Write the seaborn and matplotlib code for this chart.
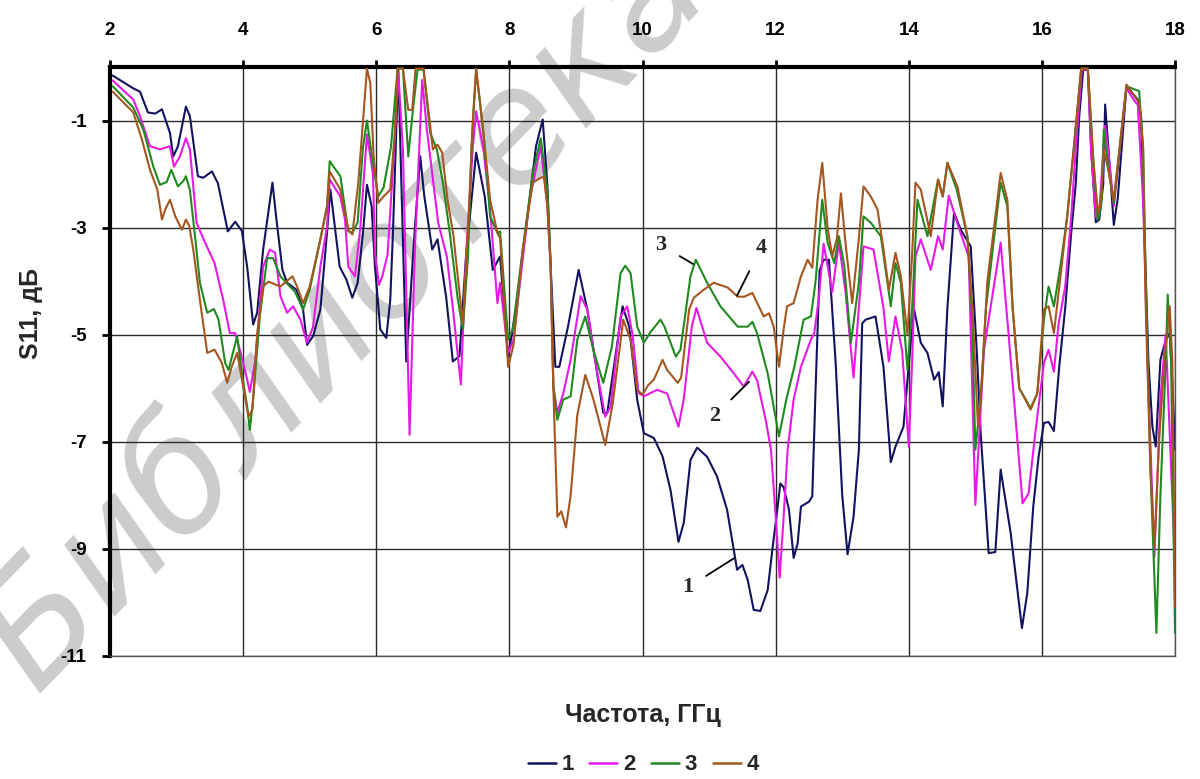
import numpy as np
import pandas as pd
import matplotlib
matplotlib.use("Agg")
import matplotlib.pyplot as plt
import seaborn as sns

# ---------------- data ----------------
f1 = [2.04,2.35,2.45,2.57,2.68,2.78,2.90,2.95,3.02,3.14,3.20,3.32,3.40,3.53,3.62,3.77,3.88,3.98,4.06,4.15,
      4.21,4.30,4.44,4.50,4.59,4.66,4.80,4.90,4.96,5.05,5.16,5.26,5.31,5.45,5.55,5.64,5.72,5.80,5.86,5.93,
      5.98,6.06,6.15,6.21,6.25,6.33,6.45,6.58,6.66,6.72,6.84,6.92,7.05,7.15,7.25,7.35,7.50,7.63,7.75,7.86,
      7.98,8.10,8.30,8.40,8.50,8.57,8.62,8.69,8.75,8.88,9.04,9.17,9.41,9.47,9.70,9.80,9.92,10.02,10.17,10.30,
      10.42,10.54,10.62,10.72,10.82,10.97,11.12,11.27,11.37,11.42,11.50,11.58,11.67,11.77,11.88,11.95,12.03,12.07,12.12,12.20,
      12.27,12.33,12.38,12.50,12.55,12.60,12.66,12.72,12.80,12.90,13.00,13.08,13.17,13.25,13.30,13.35,13.50,13.62,13.73,13.80,
      13.92,14.02,14.08,14.18,14.28,14.38,14.45,14.51,14.58,14.68,14.78,14.93,15.02,15.08,15.20,15.30,15.38,15.53,15.70,15.78,
      15.87,15.95,16.03,16.10,16.18,16.26,16.35,16.44,16.51,16.56,16.62,16.69,16.74,16.81,16.86,16.92,16.95,17.00,17.08,17.14,
      17.27,17.44,17.49,17.54,17.60,17.66,17.71,17.78,17.86,17.92,17.96,18.00]
s1 = [-0.16,-0.40,-0.46,-0.85,-0.87,-0.79,-1.23,-1.67,-1.48,-0.74,-0.92,-2.04,-2.07,-1.95,-2.17,-3.07,-2.89,-3.06,-3.73,-4.81,
      -4.59,-3.41,-2.16,-2.85,-3.79,-4.03,-4.16,-4.53,-5.19,-5.03,-4.53,-3.09,-2.29,-3.73,-3.97,-4.31,-4.03,-3.10,-2.20,-2.60,
      -3.73,-4.90,-5.06,-4.35,-3.10,-0.03,-5.50,-3.00,-1.67,-2.40,-3.41,-3.22,-4.30,-5.50,-5.40,-3.50,-1.60,-2.42,-3.79,-3.54,
      -5.42,-4.50,-2.50,-1.48,-0.98,-2.20,-3.73,-5.60,-5.60,-4.85,-3.79,-4.53,-6.46,-6.46,-4.47,-4.85,-6.22,-6.84,-6.93,-7.27,
      -7.90,-8.87,-8.51,-7.34,-7.11,-7.28,-7.65,-8.27,-9.02,-9.39,-9.30,-9.58,-10.14,-10.16,-9.77,-9.02,-8.21,-7.78,-7.85,-8.27,
      -9.17,-8.90,-8.21,-8.12,-8.02,-6.00,-3.80,-3.60,-3.60,-5.50,-8.00,-9.10,-8.40,-7.15,-4.79,-4.72,-4.66,-5.60,-7.38,-7.09,
      -6.72,-5.28,-4.53,-5.15,-5.34,-5.84,-5.70,-6.34,-4.50,-2.72,-3.04,-3.35,-5.28,-6.84,-9.08,-9.06,-7.52,-8.70,-10.48,-9.83,
      -8.21,-7.28,-6.65,-6.63,-6.80,-5.60,-4.50,-3.10,-2.16,-0.93,-0.05,-0.05,-1.54,-2.90,-2.85,-2.20,-0.70,-1.54,-2.95,-2.45,
      -0.36,-0.61,-0.92,-3.10,-5.50,-6.72,-7.09,-5.47,-5.10,-4.97,-5.90,-7.15]

f2 = [2.04,2.35,2.45,2.60,2.75,2.90,2.96,3.05,3.14,3.20,3.30,3.42,3.57,3.70,3.80,3.88,3.95,4.06,4.10,4.18,
      4.30,4.40,4.48,4.56,4.66,4.75,4.86,4.96,5.05,5.16,5.26,5.30,5.46,5.53,5.58,5.68,5.76,5.86,5.95,5.98,
      6.04,6.09,6.17,6.27,6.33,6.40,6.50,6.58,6.69,6.76,6.93,7.06,7.15,7.27,7.35,7.45,7.50,7.61,7.71,7.82,
      7.86,7.98,8.06,8.30,8.47,8.57,8.62,8.66,8.72,8.81,8.92,9.07,9.17,9.32,9.44,9.52,9.67,9.77,9.85,9.94,
      10.02,10.22,10.37,10.54,10.62,10.74,10.81,10.97,11.17,11.37,11.52,11.65,11.72,11.85,11.93,12.00,12.06,12.12,12.18,12.27,
      12.38,12.53,12.58,12.65,12.72,12.85,12.95,13.05,13.17,13.25,13.32,13.47,13.62,13.70,13.80,13.90,14.00,14.05,14.10,14.18,
      14.33,14.44,14.51,14.60,14.75,14.90,15.00,15.13,15.38,15.50,15.71,15.80,15.90,16.03,16.10,16.18,16.25,16.35,16.44,16.51,
      16.60,16.69,16.74,16.81,16.86,16.90,16.95,17.00,17.08,17.27,17.40,17.44,17.52,17.60,17.69,17.78,17.86,18.00]
s2 = [-0.25,-0.61,-0.92,-1.48,-1.54,-1.48,-1.86,-1.67,-1.33,-1.54,-2.91,-3.26,-3.66,-4.35,-4.97,-4.97,-5.28,-5.84,-6.07,-5.50,
      -3.73,-3.41,-3.47,-4.28,-4.59,-4.47,-4.72,-5.15,-4.85,-3.73,-2.98,-2.10,-2.42,-2.85,-3.73,-3.91,-3.00,-1.26,-2.00,-3.47,
      -4.07,-3.91,-3.50,-1.50,-0.10,-1.54,-6.87,-3.40,-0.24,-1.17,-2.91,-3.54,-4.50,-5.93,-3.50,-1.50,-0.83,-1.54,-2.67,-4.41,
      -4.03,-5.34,-5.10,-2.50,-1.48,-2.60,-3.73,-5.97,-6.46,-6.09,-5.47,-4.28,-4.53,-5.72,-6.53,-6.35,-4.66,-4.47,-5.00,-6.09,
      -6.15,-6.03,-6.10,-6.72,-6.20,-4.85,-4.50,-5.15,-5.41,-5.72,-5.97,-5.69,-5.85,-6.59,-7.15,-8.40,-9.54,-8.40,-7.15,-6.21,
      -5.60,-5.09,-4.97,-4.30,-3.30,-4.20,-3.28,-4.20,-5.80,-4.50,-3.35,-3.41,-4.50,-5.50,-4.66,-5.30,-7.09,-5.50,-3.54,-3.22,
      -3.79,-3.16,-3.41,-2.40,-3.00,-3.54,-8.18,-5.28,-3.28,-5.00,-8.15,-7.96,-6.84,-5.53,-5.28,-5.69,-4.80,-4.10,-2.80,-1.50,
      -0.05,-0.05,-1.60,-2.80,-2.75,-2.00,-1.10,-1.60,-2.60,-0.40,-0.65,-0.70,-2.50,-6.00,-9.15,-6.20,-5.00,-9.30]

f3 = [2.04,2.35,2.50,2.65,2.75,2.85,2.92,3.02,3.10,3.14,3.20,3.28,3.35,3.46,3.56,3.63,3.73,3.78,3.91,3.98,
      4.06,4.10,4.15,4.25,4.36,4.45,4.56,4.68,4.78,4.90,5.00,5.16,5.26,5.30,5.46,5.58,5.64,5.72,5.80,5.86,
      5.95,6.03,6.11,6.22,6.32,6.40,6.48,6.55,6.62,6.71,6.81,6.91,7.00,7.11,7.22,7.30,7.38,7.43,7.50,7.61,
      7.71,7.82,7.86,7.98,8.05,8.20,8.35,8.47,8.57,8.62,8.66,8.72,8.81,8.92,9.02,9.14,9.26,9.41,9.54,9.67,
      9.74,9.82,9.92,10.02,10.12,10.27,10.33,10.50,10.57,10.72,10.80,10.97,11.17,11.43,11.58,11.65,11.72,11.88,11.97,12.05,
      12.16,12.28,12.42,12.53,12.60,12.70,12.78,12.88,12.95,13.03,13.13,13.25,13.32,13.43,13.58,13.68,13.73,13.80,13.88,13.98,
      14.05,14.13,14.28,14.44,14.51,14.58,14.72,14.88,14.95,15.00,15.08,15.16,15.28,15.38,15.48,15.56,15.66,15.83,15.93,16.03,
      16.10,16.18,16.28,16.38,16.48,16.59,16.69,16.77,16.84,16.89,16.93,17.01,17.08,17.27,17.46,17.52,17.56,17.63,17.69,17.72,
      17.78,17.86,17.89,17.94,18.00]
s3 = [-0.36,-0.76,-1.17,-1.86,-2.20,-2.15,-1.92,-2.23,-2.13,-2.04,-2.30,-3.20,-4.03,-4.59,-4.52,-4.72,-5.53,-5.66,-5.03,-5.72,
      -6.34,-6.78,-6.20,-4.66,-3.57,-3.57,-3.91,-4.07,-4.20,-4.53,-4.16,-3.22,-2.60,-1.76,-2.04,-3.07,-3.10,-2.90,-1.50,-1.00,
      -1.80,-2.42,-2.25,-1.50,-0.03,-0.03,-1.67,-0.80,-0.05,-0.05,-1.23,-1.54,-2.16,-3.16,-4.30,-4.90,-3.50,-1.50,-0.05,-1.23,
      -2.79,-3.10,-3.07,-5.09,-4.90,-3.41,-2.00,-1.33,-2.30,-3.73,-5.97,-6.59,-6.21,-6.15,-5.09,-4.66,-5.28,-5.90,-5.22,-3.85,
      -3.71,-3.85,-4.85,-5.15,-4.95,-4.72,-4.85,-5.41,-5.28,-3.91,-3.60,-4.03,-4.47,-4.85,-4.85,-4.76,-4.97,-5.72,-6.34,-6.90,
      -6.21,-5.60,-4.72,-4.66,-4.00,-2.48,-3.28,-3.66,-3.16,-3.70,-5.15,-4.03,-2.79,-2.91,-3.16,-4.03,-4.47,-3.66,-4.03,-5.66,
      -4.50,-2.48,-3.16,-2.10,-2.42,-1.79,-2.29,-3.16,-4.60,-7.15,-6.20,-4.50,-3.20,-2.16,-2.60,-4.50,-6.00,-6.37,-6.10,-4.72,
      -4.10,-4.47,-3.70,-2.79,-1.50,-0.03,-0.03,-1.70,-2.85,-2.60,-1.17,-2.00,-2.54,-0.36,-0.45,-1.50,-4.00,-7.50,-9.52,-10.57,
      -8.00,-5.50,-4.25,-5.50,-10.57]

f4 = [2.04,2.35,2.48,2.60,2.71,2.78,2.83,2.90,2.98,3.08,3.14,3.19,3.25,3.35,3.46,3.57,3.68,3.76,3.83,3.91,
      4.00,4.08,4.14,4.21,4.30,4.38,4.46,4.56,4.74,4.81,4.90,5.00,5.16,5.26,5.30,5.46,5.58,5.64,5.73,5.80,
      5.86,5.91,5.96,6.03,6.10,6.21,6.28,6.32,6.40,6.48,6.54,6.59,6.71,6.85,6.92,6.99,7.07,7.16,7.30,7.38,
      7.45,7.50,7.61,7.71,7.82,7.86,7.98,8.06,8.20,8.35,8.47,8.52,8.57,8.62,8.66,8.72,8.78,8.85,8.92,9.02,
      9.14,9.26,9.44,9.55,9.71,9.82,9.92,10.00,10.08,10.17,10.30,10.37,10.53,10.58,10.70,10.77,10.92,11.07,11.28,11.43,
      11.53,11.65,11.72,11.82,11.90,11.97,12.05,12.12,12.17,12.27,12.38,12.48,12.55,12.63,12.70,12.78,12.85,12.92,12.98,13.05,
      13.15,13.25,13.32,13.43,13.53,13.62,13.70,13.80,13.88,13.98,14.05,14.10,14.18,14.33,14.44,14.51,14.58,14.73,14.88,14.96,
      15.04,15.10,15.18,15.28,15.38,15.48,15.56,15.66,15.83,15.93,16.03,16.10,16.18,16.28,16.38,16.48,16.59,16.69,16.77,16.84,
      16.89,16.93,17.01,17.08,17.27,17.46,17.52,17.56,17.63,17.69,17.76,17.84,17.92,17.96,18.00]
s4 = [-0.46,-0.85,-1.36,-1.92,-2.29,-2.85,-2.66,-2.48,-2.79,-3.04,-2.85,-2.97,-3.41,-4.35,-5.34,-5.28,-5.53,-5.90,-5.59,-5.34,
      -5.97,-6.53,-6.40,-5.00,-4.10,-4.01,-4.05,-4.10,-3.91,-4.10,-4.41,-4.10,-3.22,-2.60,-1.95,-2.29,-3.04,-3.13,-2.16,-1.00,
      -0.03,-0.30,-1.67,-2.54,-2.43,-2.29,-1.20,-0.03,-0.03,-0.80,-0.80,-0.03,-0.03,-1.54,-1.45,-1.60,-2.48,-3.16,-4.80,-3.00,
      -1.00,-0.03,-1.23,-2.48,-3.10,-3.20,-5.60,-5.20,-3.41,-2.16,-2.07,-2.05,-2.60,-3.73,-6.00,-8.40,-8.30,-8.60,-8.00,-6.50,
      -5.75,-6.20,-7.06,-6.30,-4.72,-5.09,-6.03,-6.12,-5.95,-5.84,-5.47,-5.66,-5.90,-5.80,-4.53,-4.31,-4.16,-4.03,-4.12,-4.29,
      -4.29,-4.22,-4.40,-4.66,-4.60,-4.85,-5.60,-4.90,-4.47,-4.41,-3.91,-3.60,-3.75,-2.48,-1.79,-3.00,-3.54,-3.20,-2.36,-3.30,
      -4.41,-3.20,-2.23,-2.42,-2.66,-3.40,-4.16,-3.47,-3.90,-5.00,-3.50,-2.16,-2.29,-3.16,-2.10,-2.42,-1.79,-2.23,-3.16,-4.60,
      -6.72,-5.80,-4.00,-3.00,-1.98,-2.48,-4.50,-6.00,-6.40,-6.10,-4.53,-4.47,-4.97,-3.90,-2.79,-1.50,-0.03,-0.03,-1.70,-2.73,
      -2.50,-1.54,-2.00,-2.48,-0.33,-0.67,-1.50,-4.50,-7.50,-8.96,-7.00,-5.50,-4.47,-5.50,-10.08]

series_names = ["1", "2", "3", "4"]
series_colors = ["#12125e", "#e619e6", "#1f8a1f", "#a5561f"]
x_ticks = [2, 4, 6, 8, 10, 12, 14, 16, 18]
y_ticks = [-1, -3, -5, -7, -9, -11]
x_label = "Частота, ГГц"
y_label = "S11, дБ"
watermark = "Библиотека"

# labels placed on the curves: (text, text x, text y, arrow end x, arrow end y)
curve_labels = [("1", 10.68, -9.72, 11.37, -9.18),
                ("2", 11.08, -6.52, 11.60, -5.88),
                ("3", 10.28, -3.33, 10.76, -3.68),
                ("4", 11.78, -3.38, 11.42, -4.27)]

# ---------------- build long-form frame ----------------
frames = []
for name, f, s in zip(series_names, [f1, f2, f3, f4], [s1, s2, s3, s4]):
    frames.append(pd.DataFrame({"f": f, "s11": s, "curve": name}))
df = pd.concat(frames, ignore_index=True)

sns.set_theme(style="white")
plt.rcParams["font.family"] = ["Liberation Sans", "DejaVu Sans"]

fig = plt.figure(figsize=(12, 7.79), dpi=100)
fig.patch.set_facecolor("white")
ax = fig.add_axes([0.0917, 0.158, 0.8875, 0.756])
ax.set_zorder(1)
ax.patch.set_visible(False)

# watermark (behind everything else)
fig.text(0.03, 0.11, watermark, rotation=46, rotation_mode="anchor",
         fontsize=112, color="#cccccc", style="italic", ha="left", va="baseline",
         zorder=0, family=["DejaVu Sans"])

sns.lineplot(data=df, x="f", y="s11", hue="curve", palette=series_colors,
             estimator=None, sort=False, linewidth=1.5, ax=ax, legend=False, zorder=3)

ax.set_xlim(2, 18)
ax.set_ylim(-11, 0)
ax.xaxis.tick_top()
ax.set_xticks(x_ticks)
ax.set_xticklabels([str(t) for t in x_ticks], fontsize=13.5, fontweight="bold")
ax.set_yticks(y_ticks)
ax.set_yticklabels([str(t) for t in y_ticks], fontsize=13.5, fontweight="bold")
ax.tick_params(axis="x", which="both", top=True, bottom=False, direction="out",
               length=5, width=2, pad=15, color="black", labelcolor="black")
ax.tick_params(axis="y", which="both", left=True, direction="out",
               length=6, width=2, pad=11, color="black", labelcolor="black")
ax.grid(True, color="#2a2a2a", linewidth=1.0, zorder=1)
ax.set_axisbelow(True)
for side in ["top", "left"]:
    ax.spines[side].set_linewidth(3)
    ax.spines[side].set_color("black")
for side in ["bottom", "right"]:
    ax.spines[side].set_linewidth(1.0)
    ax.spines[side].set_color("#555555")

ax.set_xlabel("")
ax.set_ylabel("")
fig.text(0.536, 0.082, x_label, ha="center", va="center", fontsize=18, fontweight="bold")
fig.text(0.026, 0.598, y_label, ha="center", va="center", rotation=90, fontsize=18, fontweight="bold")

for txt, tx, ty, axx, ayy in curve_labels:
    ax.annotate(txt, xy=(axx, ayy), xytext=(tx, ty), ha="center", va="center",
                fontsize=16, fontweight="bold", family=["Liberation Serif"],
                arrowprops=dict(arrowstyle="-", color="black", lw=1.3, shrinkA=8, shrinkB=0),
                zorder=5)

handles = [plt.Line2D([], [], color=c, linewidth=1.8) for c in series_colors]
fig.legend(handles, series_names, loc="center", bbox_to_anchor=(0.536, 0.018), ncol=4,
           frameon=False, handlelength=1.27, handletextpad=0.25, columnspacing=0.7,
           prop={"size": 16, "weight": "bold"})

fig.savefig("out.png", dpi=100)
